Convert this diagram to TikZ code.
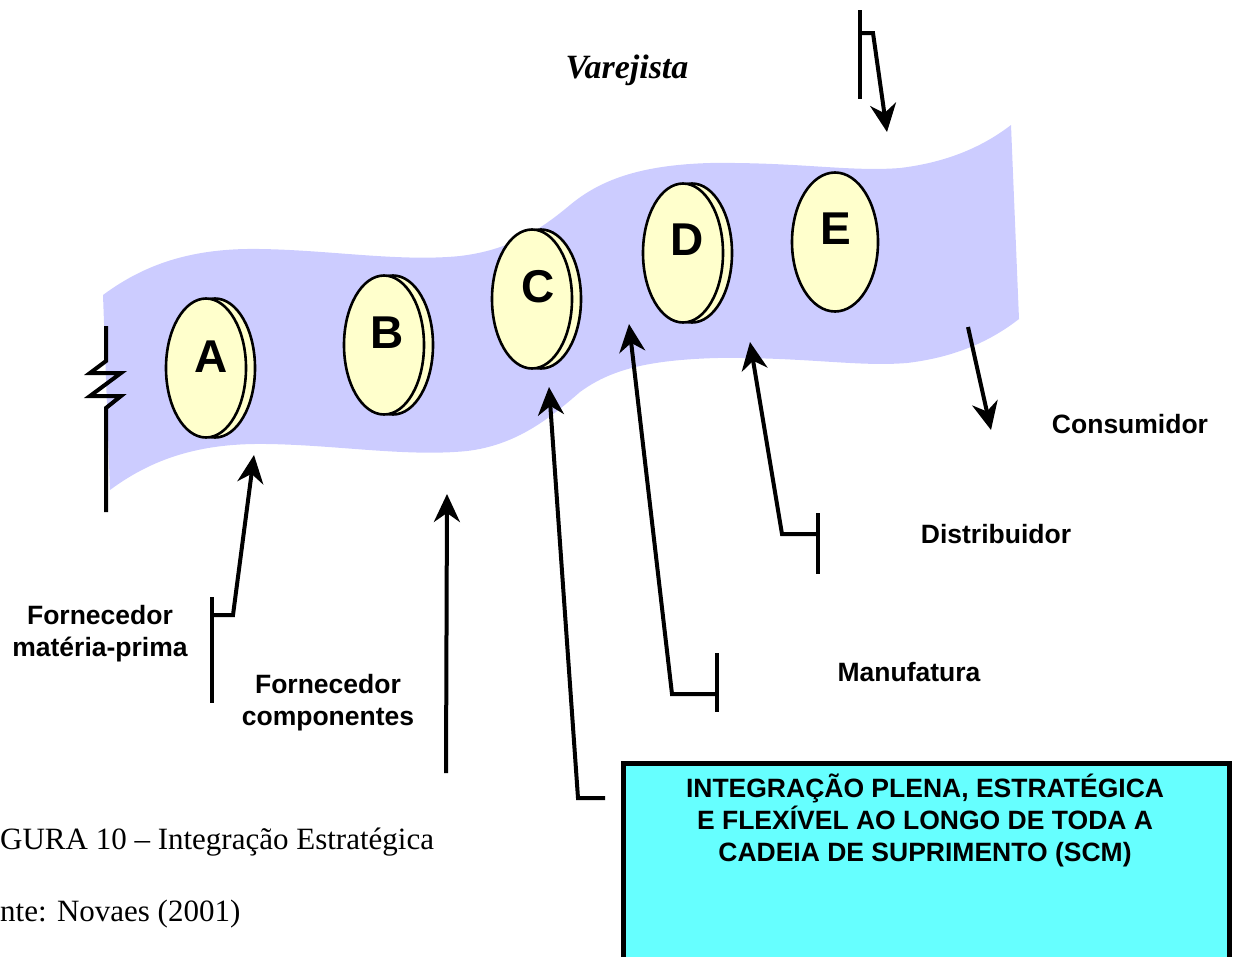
\documentclass[tikz,border=0pt]{standalone}
\usepackage{fontspec}
\setmainfont{Liberation Serif}
\setsansfont{Liberation Sans}
\usetikzlibrary{arrows.meta,shapes.geometric}
\definecolor{ribbonblue}{HTML}{CCCCFF}
\definecolor{diskfill}{HTML}{FFFFCC}
\definecolor{boxcyan}{HTML}{66FFFF}
\begin{document}
\begin{tikzpicture}[x=1pt,y=-1pt,
  lbl/.style={font=\sffamily\bfseries\fontsize{26.5}{32}\selectfont, align=center, inner sep=0pt},
  letter/.style={font=\sffamily\bfseries\fontsize{46}{50}\selectfont, inner sep=0pt},
  disk/.style={ellipse, draw=black, line width=2.6pt, fill=diskfill, minimum width=80pt, minimum height=139pt, inner sep=0pt},
  rim/.style={draw=black, line width=2.6pt, fill=diskfill},
  conn/.style={line width=4pt, line join=miter, line cap=butt},
  arr/.style={conn, -{Stealth[length=28pt,width=26pt,inset=9pt]}},
  captxt/.style={font=\fontsize{31}{36}\selectfont, inner sep=0pt, anchor=base west}]
\useasboundingbox (0,0) rectangle (1236,956);
\clip (0,0) rectangle (1236,956);

% ribbon
\fill[ribbonblue] (103,295) .. controls (150,260) and (200,248) .. (260,249)
  .. controls (330,250) and (400,262) .. (460,256)
  .. controls (510,250) and (540,230) .. (570,205)
  .. controls (600,180) and (640,165) .. (710,163)
  .. controls (800,162) and (850,172) .. (900,168)
  .. controls (950,162) and (985,145) .. (1011,125)
  -- (1019,319)
  .. controls (992,340) and (957,357) .. (907,363)
  .. controls (857,367) and (807,357) .. (717,358)
  .. controls (647,360) and (610,370) .. (580,392)
  .. controls (550,418) and (517,445) .. (467,451)
  .. controls (407,457) and (337,445) .. (267,444)
  .. controls (207,443) and (157,455) .. (110,490) -- cycle;

% disks
\draw[rim] (215,368) ellipse [x radius=40, y radius=69.5];
\node[disk] (dA) at (206,368) {};
\draw[rim] (393,345) ellipse [x radius=40, y radius=69.5];
\node[disk] (dB) at (384,345) {};
\draw[rim] (541,299) ellipse [x radius=40, y radius=69.5];
\node[disk] (dC) at (532,299) {};
\draw[rim] (692,253) ellipse [x radius=40, y radius=69.5];
\node[disk] (dD) at (683,253) {};
\node[disk, minimum width=86pt] (dE) at (835,242) {};

\node[letter] (lA) at (211,357) {A};
\node[letter] (lB) at (387,333) {B};
\node[letter] (lC) at (538,287) {C};
\node[letter] (lD) at (687,240) {D};
\node[letter] (lE) at (836,229) {E};

% zigzag at left
\coordinate (z0) at (106,326);
\coordinate (z7) at (106,512);
\draw[conn] (z0) -- (106,361) -- (90,373) -- (121,373) -- (90,396) -- (121,396) -- (106,408) -- (z7);

% labels
\node[font=\bfseries\itshape\fontsize{34}{38}\selectfont, inner sep=0pt] (varejista) at (627,70) {Varejista};
\node[lbl] (consumidor) at (1130,424) {Consumidor};
\node[lbl] (distribuidor) at (996,534) {Distribuidor};
\node[lbl] (manufatura) at (909,672) {Manufatura};
\node[lbl] (fmp) at (100,634) {Fornecedor\\matéria-prima};
\node[lbl] (fcomp) at (328,703) {Fornecedor\\componentes};

% box
\node[draw=black, line width=4.5pt, fill=boxcyan, anchor=north west, minimum width=606pt, minimum height=230pt, inner sep=0pt] (box) at (621,761) {};
\node[lbl] (boxtext) at (925,820) {INTEGRAÇÃO PLENA, ESTRATÉGICA\\E FLEXÍVEL AO LONGO DE TODA A\\CADEIA DE SUPRIMENTO (SCM)};

% captions
\node[captxt] (fig) at (0,849) {GURA 10 – Integração Estratégica};
\node[captxt] (fonte) at (0,921) {nte: Novaes (2001)};

% connectors
\coordinate (mpTop) at (212,597);
\coordinate (mpBot) at (212,703);
\coordinate (mpJ) at (212,615);
\coordinate (mpK) at (233,615);
\coordinate (mpTip) at (254,455);
\draw[conn] (mpTop) -- (mpBot);
\draw[arr] (mpJ) -- (mpK) -- (mpTip);

\coordinate (coBot) at (446,773);
\coordinate (coTip) at (447,494);
\draw[arr] (coBot) -- (coTip);

\coordinate (bxA) at (605,798);
\coordinate (bxB) at (578,798);
\coordinate (cTip) at (549,387);
\draw[arr] (bxA) -- (bxB) -- (cTip);

\coordinate (mfTop) at (717,653);
\coordinate (mfBot) at (717,712);
\coordinate (mfJ) at (717,694);
\coordinate (mfK) at (672,694);
\coordinate (mfTip) at (629,324);
\draw[conn] (mfTop) -- (mfBot);
\draw[arr] (mfJ) -- (mfK) -- (mfTip);

\coordinate (dsTop) at (818,513);
\coordinate (dsBot) at (818,574);
\coordinate (dsJ) at (818,534);
\coordinate (dsK) at (782,534);
\coordinate (dsTip) at (750,342);
\draw[conn] (dsTop) -- (dsBot);
\draw[arr] (dsJ) -- (dsK) -- (dsTip);

\coordinate (csStart) at (968,327);
\coordinate (csTip) at (991,430);
\draw[arr] (csStart) -- (csTip);

\coordinate (vjTop) at (860,10);
\coordinate (vjBot) at (860,99);
\coordinate (vjJ) at (860,33);
\coordinate (vjK) at (873,33);
\coordinate (vjTip) at (887,132);
\draw[conn] (vjTop) -- (vjBot);
\draw[arr] (vjJ) -- (vjK) -- (vjTip);
\end{tikzpicture}
\end{document}
